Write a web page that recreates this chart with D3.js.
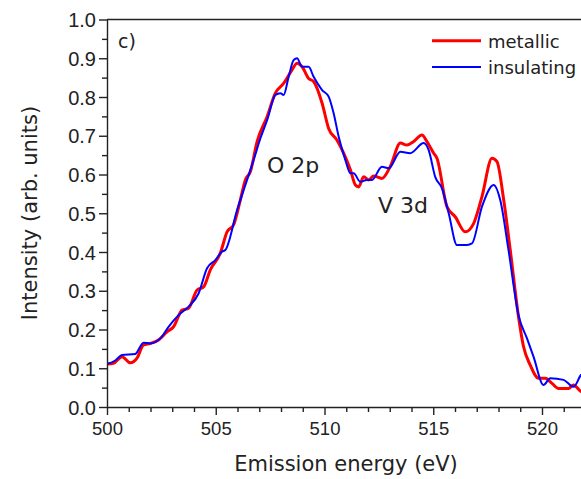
<!DOCTYPE html>
<html>
<head>
<meta charset="utf-8">
<script src="https://cdn.jsdelivr.net/npm/d3@7"></script>
<style>
  body { margin: 0; background: #fff; }
  svg { font-family: "DejaVu Sans", sans-serif; }
</style>
</head>
<body>
<div id="chart"></div>
<script>
// metallic spectrum (red)
const metallicEnergy = [500.0, 500.3, 500.69, 501.07, 501.38, 501.68, 501.99, 502.37, 502.76, 503.06, 503.45, 503.75, 504.14, 504.44, 504.75, 505.21, 505.52, 505.82, 506.13, 506.36, 506.59, 506.9, 507.36, 507.74, 508.12, 508.51, 508.74, 508.97, 509.27, 509.5, 509.89, 510.19, 510.57, 510.88, 511.19, 511.42, 511.57, 511.8, 512.03, 512.26, 512.64, 513.02, 513.49, 513.79, 514.1, 514.48, 514.71, 515.02, 515.17, 515.63, 516.01, 516.47, 516.86, 517.24, 517.7, 517.93, 518.24, 518.54, 518.92, 519.15, 519.46, 519.84, 520.15, 520.46, 520.76, 521.22, 521.45, 521.8, 522.0];
const metallicIntensity = [0.111, 0.113, 0.130, 0.114, 0.126, 0.160, 0.164, 0.173, 0.194, 0.207, 0.250, 0.255, 0.302, 0.310, 0.354, 0.397, 0.452, 0.470, 0.534, 0.586, 0.607, 0.685, 0.749, 0.810, 0.835, 0.870, 0.887, 0.878, 0.848, 0.840, 0.784, 0.719, 0.689, 0.655, 0.612, 0.573, 0.568, 0.594, 0.586, 0.596, 0.590, 0.620, 0.681, 0.676, 0.685, 0.702, 0.685, 0.655, 0.642, 0.517, 0.491, 0.452, 0.474, 0.543, 0.642, 0.633, 0.534, 0.405, 0.233, 0.156, 0.108, 0.074, 0.074, 0.061, 0.048, 0.048, 0.057, 0.040, 0.038];

// insulating spectrum (blue)
const insulatingEnergy = [500.0, 500.38, 500.69, 501.3, 501.68, 501.99, 502.45, 502.83, 503.29, 503.75, 504.21, 504.6, 504.98, 505.29, 505.44, 505.98, 506.44, 506.74, 507.05, 507.36, 507.74, 507.97, 508.12, 508.35, 508.58, 508.74, 508.97, 509.27, 509.5, 509.89, 510.19, 510.42, 510.65, 510.96, 511.19, 511.34, 511.65, 511.95, 512.18, 512.64, 512.95, 513.49, 513.94, 514.56, 514.79, 515.09, 515.4, 515.71, 516.09, 516.55, 516.78, 517.24, 517.78, 518.08, 518.46, 518.92, 519.31, 519.61, 520.07, 520.38, 520.99, 521.45, 521.8, 522.0];
const insulatingIntensity = [0.111, 0.120, 0.134, 0.137, 0.166, 0.164, 0.177, 0.207, 0.237, 0.259, 0.293, 0.358, 0.379, 0.401, 0.405, 0.508, 0.586, 0.637, 0.693, 0.740, 0.805, 0.810, 0.805, 0.852, 0.895, 0.900, 0.878, 0.878, 0.852, 0.818, 0.801, 0.758, 0.698, 0.637, 0.603, 0.603, 0.581, 0.586, 0.586, 0.620, 0.616, 0.659, 0.655, 0.681, 0.663, 0.594, 0.564, 0.500, 0.418, 0.418, 0.422, 0.517, 0.573, 0.534, 0.405, 0.237, 0.177, 0.130, 0.057, 0.074, 0.070, 0.052, 0.083, 0.090];

const xTicks = [500, 505, 510, 515, 520];
const yTicks = [0.0, 0.1, 0.2, 0.3, 0.4, 0.5, 0.6, 0.7, 0.8, 0.9, 1.0];

const W = 581, H = 479;
const margin = {top: 19.5, left: 107};
const plotW = 478.5, plotH = 387.5;

const svg = d3.select('#chart').append('svg')
  .attr('width', W).attr('height', H);

const g = svg.append('g')
  .attr('transform', 'translate(' + margin.left + ',' + margin.top + ')');

const x = d3.scaleLinear().domain([500, 522]).range([0, plotW]);
const y = d3.scaleLinear().domain([0, 1]).range([plotH, 0]);

// clip
svg.append('defs').append('clipPath').attr('id', 'clip')
  .append('rect').attr('width', plotW).attr('height', plotH);

// lines
const line = d3.line().curve(d3.curveMonotoneX);
const plot = g.append('g').attr('clip-path', 'url(#clip)');

plot.append('path')
  .attr('d', line(metallicEnergy.map((e, i) => [x(e), y(metallicIntensity[i])])))
  .attr('fill', 'none').attr('stroke', '#ff0000').attr('stroke-width', 3);

plot.append('path')
  .attr('d', line(insulatingEnergy.map((e, i) => [x(e), y(insulatingIntensity[i])])))
  .attr('fill', 'none').attr('stroke', '#0000ff').attr('stroke-width', 2);

// axes
const axisColor = '#222';
const xMinor = d3.range(500, 523, 1).filter(v => v % 5 !== 0);
const yMinor = d3.range(0.05, 1, 0.1);

g.append('g').attr('transform', 'translate(0,' + plotH + ')')
  .call(d3.axisBottom(x).tickValues(xMinor).tickSize(5).tickFormat(''))
  .call(a => a.select('.domain').remove());
g.append('g').attr('transform', 'translate(0,' + plotH + ')')
  .call(d3.axisBottom(x).tickValues(xTicks).tickSize(8).tickPadding(7).tickSizeOuter(0).tickFormat(d3.format('d')))
  .call(a => a.selectAll('text').attr('font-size', 18.5).attr('fill', axisColor));

g.append('g')
  .call(d3.axisLeft(y).tickValues(yMinor).tickSize(5).tickFormat(''))
  .call(a => a.select('.domain').remove());
g.append('g')
  .call(d3.axisLeft(y).tickValues(yTicks).tickSize(8).tickPadding(3).tickSizeOuter(0).tickFormat(d3.format('.1f')))
  .call(a => a.selectAll('text').attr('font-size', 20).attr('fill', axisColor).attr('dy', '0.36em'));

g.selectAll('.domain, .tick line').attr('stroke', axisColor).attr('stroke-width', 1.4);

// top frame
g.append('line').attr('x1', 0).attr('x2', plotW).attr('y1', 0).attr('y2', 0)
  .attr('stroke', axisColor).attr('stroke-width', 1.4);

// axis titles
svg.append('text').attr('x', 346).attr('y', 471).attr('text-anchor', 'middle')
  .attr('font-size', 21).attr('fill', axisColor).text('Emission energy (eV)');
svg.append('text').attr('transform', 'translate(37,213) rotate(-90)').attr('text-anchor', 'middle')
  .attr('font-size', 21).attr('fill', axisColor).text('Intensity (arb. units)');

// annotations
svg.append('text').attr('x', 118).attr('y', 48).attr('font-size', 19).attr('fill', axisColor).text('c)');
svg.append('text').attr('x', 267).attr('y', 172.5).attr('font-size', 22).attr('fill', axisColor).text('O 2p');
svg.append('text').attr('x', 378).attr('y', 213).attr('font-size', 22).attr('fill', axisColor).text('V 3d');

// legend
const legend = [{name: 'metallic', color: '#ff0000', w: 3, y: 40.7}, {name: 'insulating', color: '#0000ff', w: 2, y: 67}];
legend.forEach(d => {
  svg.append('line').attr('x1', 432).attr('x2', 481).attr('y1', d.y).attr('y2', d.y)
    .attr('stroke', d.color).attr('stroke-width', d.w);
  svg.append('text').attr('x', 488).attr('y', d.y + 7).attr('font-size', 18)
    .attr('fill', axisColor).text(d.name);
});
</script>
</body>
</html>
